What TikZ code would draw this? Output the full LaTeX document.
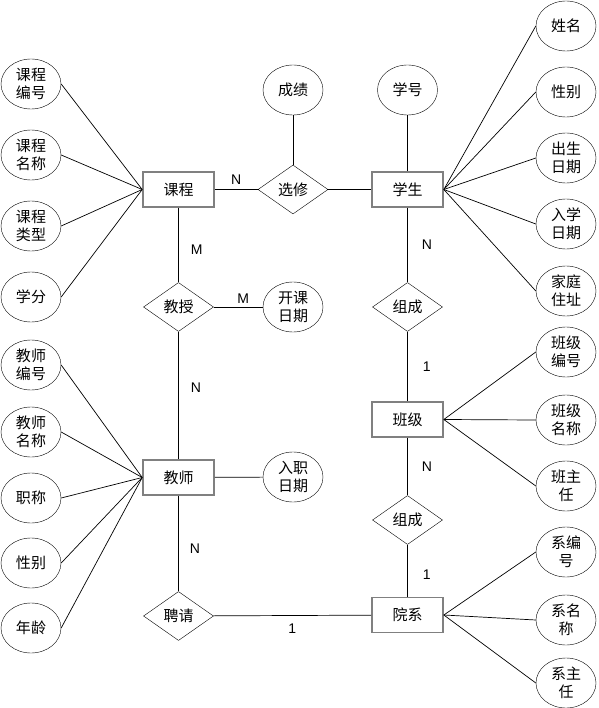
\documentclass[tikz,border=0pt]{standalone}
\usepackage{fontspec}
\setmainfont{Liberation Sans}
\newfontfamily\zhfont{Noto Sans CJK SC}
\usetikzlibrary{shapes.geometric, positioning}
\definecolor{BG}{RGB}{128,128,128}
\begin{document}
\begin{tikzpicture}[
  x=1pt, y=-1pt,
  attr/.style={ellipse, draw, thin, minimum width=60pt, minimum height=50pt,
               inner sep=0pt, align=center, font=\zhfont\fontsize{15}{18}\selectfont},
  ent/.style={rectangle, draw=BG, line width=1.6pt, minimum width=71pt,
              minimum height=35pt, inner sep=0pt, font=\zhfont\fontsize{15}{18}\selectfont},
  rel/.style={diamond, draw, thin, minimum width=70pt, minimum height=49pt,
              inner sep=0pt, font=\zhfont\fontsize{15}{18}\selectfont},
  ln/.style={draw, line width=0.7pt},
  lbl/.style={font=\fontsize{14}{16}\selectfont, inner sep=0pt}
]
\useasboundingbox (0,0) rectangle (598,708);

% entities
\node[ent] (kc) at (178.5,189.5) {课程};
\node[ent] (xs) at (407.5,189.5) {学生};
\node[ent] (js) at (178.5,477.5) {教师};
\node[ent] (bj) at (407.5,419.5) {班级};
\node[ent] (yx) at (407.5,615)   {院系};

% relations
\node[rel] (xx)  at (293,189.5)   {选修};
\node[rel] (jsh) at (178.5,307)   {教授};
\node[rel] (zc1) at (407.5,307)   {组成};
\node[rel] (zc2) at (407.5,520)   {组成};
\node[rel] (pq)  at (178.5,616)   {聘请};

% attributes
\node[attr] (cj)  at (293,90)    {成绩};
\node[attr] (xh)  at (407.5,90)  {学号};
\node[attr] (kkrq) at (293,307)  {开课\\日期};
\node[attr] (rzrq) at (293,477)  {入职\\日期};

\node[attr] (kc1) at (31,84)  {课程\\编号};
\node[attr] (kc2) at (31,155) {课程\\名称};
\node[attr] (kc3) at (31,226) {课程\\类型};
\node[attr] (kc4) at (31,297) {学分};

\node[attr] (xs1) at (566,26)  {姓名};
\node[attr] (xs2) at (566,92)  {性别};
\node[attr] (xs3) at (566,158) {出生\\日期};
\node[attr] (xs4) at (566,224) {入学\\日期};
\node[attr] (xs5) at (566,291) {家庭\\住址};

\node[attr] (bj1) at (566,352) {班级\\编号};
\node[attr] (bj2) at (566,420) {班级\\名称};
\node[attr] (bj3) at (566,486) {班主\\任};

\node[attr] (yx1) at (566,552) {系编\\号};
\node[attr] (yx2) at (566,620) {系名\\称};
\node[attr] (yx3) at (566,683) {系主\\任};

\node[attr] (js1) at (31,365) {教师\\编号};
\node[attr] (js2) at (31,432) {教师\\名称};
\node[attr] (js3) at (31,498) {职称};
\node[attr] (js4) at (31,563) {性别};
\node[attr] (js5) at (31,628) {年龄};

% relationship lines
\draw[ln] (kc) -- node[lbl, above=5pt]{N} (xx);
\draw[ln] (xx) -- (xs);
\draw[ln] (cj) -- (xx);
\draw[ln] (xh) -- (xs);
\draw[ln] (kc) -- node[lbl, right=12pt, pos=0.56]{M} (jsh);
\draw[ln] (jsh) -- node[lbl, above=3pt, pos=0.6]{M} (kkrq);
\draw[ln] (jsh) -- node[lbl, right=12pt, pos=0.44]{N} (js);
\draw[ln] (js) -- (rzrq);
\draw[ln] (js) -- node[lbl, right=11pt, pos=0.55]{N} (pq);
\draw[ln] (pq) -- node[lbl, below=8pt]{1} (yx);
\draw[ln] (xs) -- node[lbl, right=14pt]{N} (zc1);
\draw[ln] (zc1) -- node[lbl, right=15pt]{1} (bj);
\draw[ln] (bj) -- node[lbl, right=14pt]{N} (zc2);
\draw[ln] (zc2) -- node[lbl, right=15pt, pos=0.58]{1} (yx);

% attribute lines
\foreach \a in {kc1,kc2,kc3,kc4} \draw[ln] (kc.west) -- (\a.east);
\foreach \a in {js1,js2,js3,js4,js5} \draw[ln] (js.west) -- (\a.east);
\foreach \a in {xs1,xs2,xs3,xs4,xs5} \draw[ln] (xs.east) -- (\a.west);
\foreach \a in {bj1,bj2,bj3} \draw[ln] (bj.east) -- (\a.west);
\foreach \a in {yx1,yx2,yx3} \draw[ln] (yx.east) -- (\a.west);
\end{tikzpicture}
\end{document}
